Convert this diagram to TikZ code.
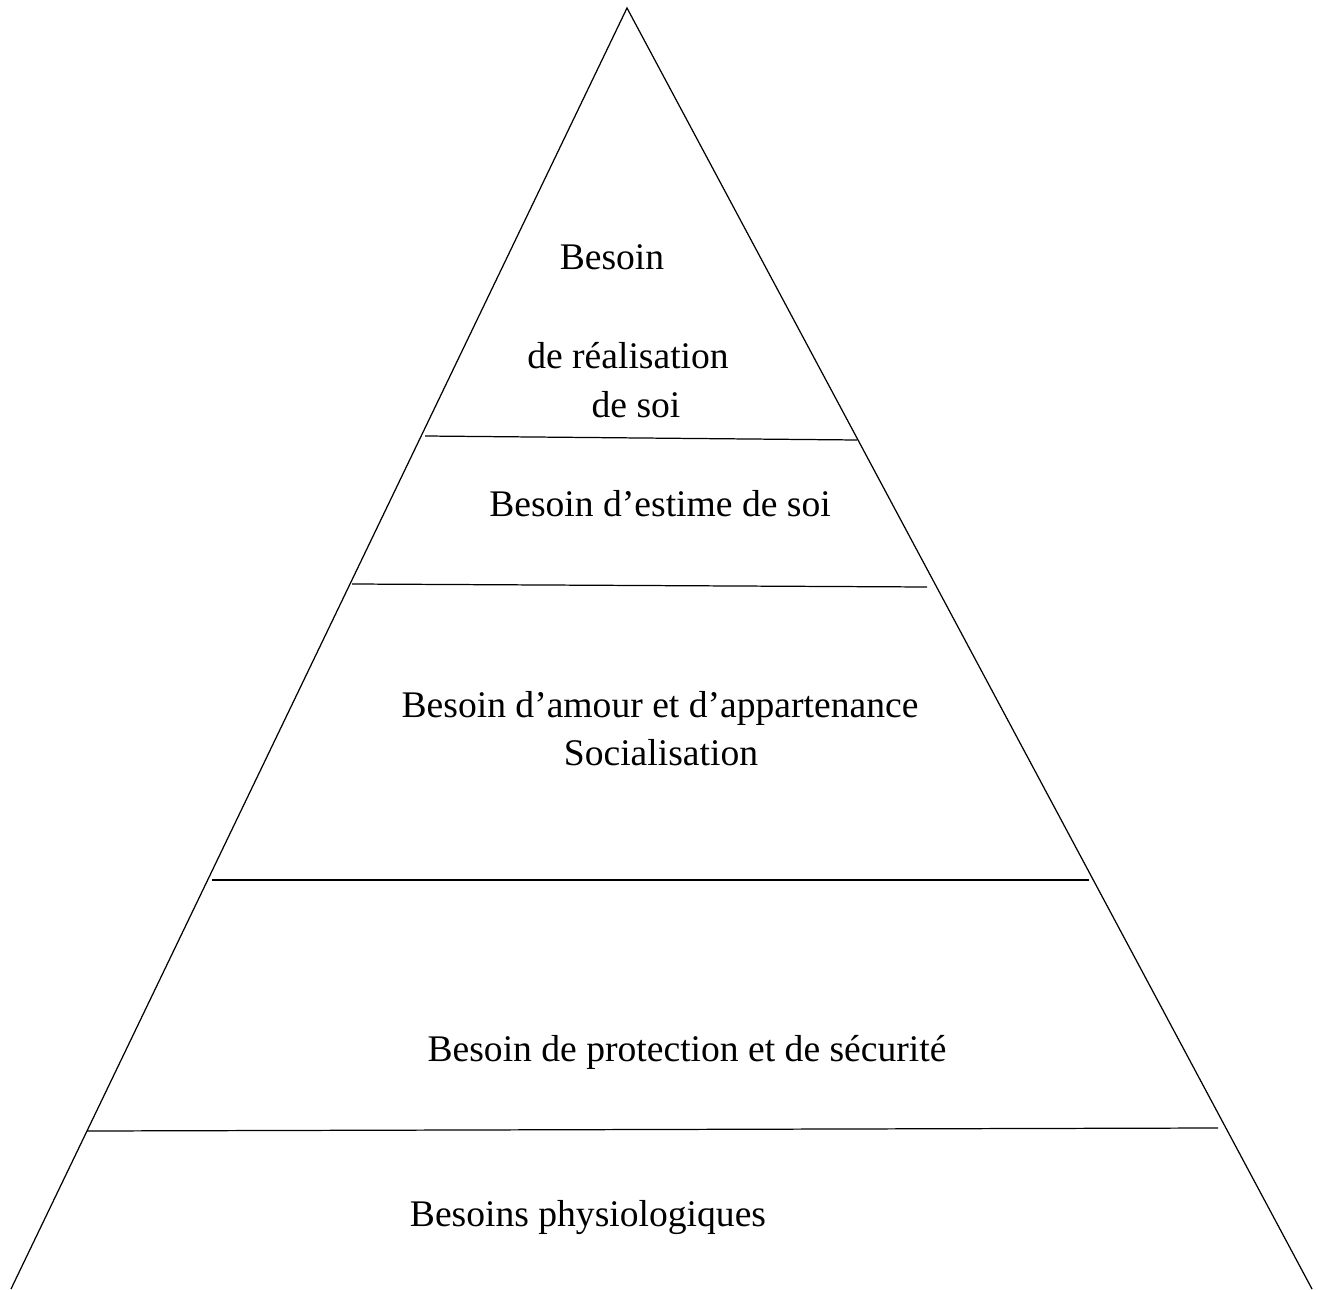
\documentclass[tikz,border=0pt]{standalone}
\usepackage{fontspec}
\setmainfont{Liberation Serif}
\usetikzlibrary{positioning}

\begin{document}
\begin{tikzpicture}[x=0.02cm, y=-0.02cm, line width=0.7pt,
  level/.style={font=\fontsize{21.4}{25}\selectfont, anchor=base, inner sep=0pt}]
\useasboundingbox (0,0) rectangle (1318,1290);

% Pyramid sides
\coordinate (apex) at (627,8);
\coordinate (bl) at (11,1289);
\coordinate (br) at (1312,1289);
\draw (bl) -- (apex) -- (br);

% Separating lines
\coordinate (s1l) at (425,436);
\coordinate (s1r) at (857,440);
\coordinate (s2l) at (352,584);
\coordinate (s2r) at (927,587);
\coordinate (s3l) at (212,880);
\coordinate (s3r) at (1089,880);
\coordinate (s4l) at (87,1131);
\coordinate (s4r) at (1218,1128);
\draw (s1l) -- (s1r);
\draw (s2l) -- (s2r);
\draw (s3l) -- (s3r);
\draw (s4l) -- (s4r);

% Top level
\node[level] (real1) at (612,270) {Besoin};
\node[level] (real2) at (628,369) {de réalisation};
\node[level] (real3) at (636,418) {de soi};

% Estime
\node[level] (estime) at (660,517) {Besoin d’estime de soi};

% Amour
\node[level] (amour) at (660,717) {Besoin d’amour et d’appartenance};
\node[level] (social) at (661,765) {Socialisation};

% Securite
\node[level] (secu) at (687,1061) {Besoin de protection et de sécurité};

% Physiologiques
\node[level] (physio) at (588,1226) {Besoins physiologiques};
\end{tikzpicture}
\end{document}
